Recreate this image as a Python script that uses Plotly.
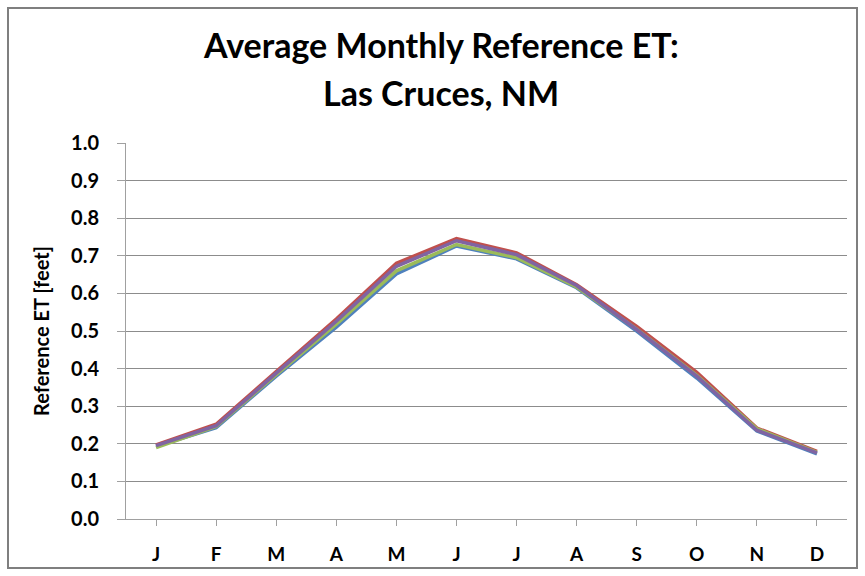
import plotly.graph_objs as go

months = ['J', 'F', 'M', 'A', 'M', 'J', 'J', 'A', 'S', 'O', 'N', 'D']
month_ids = list(range(12))

# reference ET [feet], four records
et_blue = [0.193, 0.243, 0.380, 0.510, 0.652, 0.726, 0.692, 0.615, 0.500, 0.375, 0.234, 0.173]
et_red = [0.197, 0.252, 0.392, 0.532, 0.680, 0.746, 0.708, 0.623, 0.512, 0.390, 0.242, 0.180]
et_green = [0.190, 0.246, 0.384, 0.518, 0.660, 0.730, 0.695, 0.617, 0.505, 0.382, 0.240, 0.177]
et_purple = [0.195, 0.248, 0.388, 0.526, 0.672, 0.740, 0.703, 0.621, 0.504, 0.380, 0.236, 0.176]

title_lines = ['Average Monthly Reference ET:', 'Las Cruces, NM']

series = [
    (et_blue, '#4F81BD'),
    (et_red, '#C0504D'),
    (et_green, '#9BBB59'),
    (et_purple, '#8064A2'),
]

font_family = 'Lato, "Open Sans", sans-serif'

traces = [
    go.Scatter(
        x=month_ids,
        y=vals,
        mode='lines',
        line=dict(color=col, width=3.5),
        showlegend=False,
    )
    for vals, col in series
]

# title as two annotations so each line sits where it should
title_annots = [
    dict(
        text=line,
        xref='paper',
        yref='paper',
        x=0.437,
        y=y,
        xanchor='center',
        yanchor='middle',
        showarrow=False,
        font=dict(size=34, weight='bold', color='black'),
    )
    for line, y in zip(title_lines, (1.262, 1.133))
]

fig = go.Figure(
    data=traces,
    layout=go.Layout(
        width=865,
        height=576,
        margin=dict(l=126, r=18, t=143, b=57, autoexpand=False),
        paper_bgcolor='white',
        plot_bgcolor='white',
        font=dict(family=font_family, color='black'),
        annotations=title_annots,
        xaxis=dict(
            tickmode='array',
            tickvals=month_ids,
            ticktext=months,
            range=[-0.5, 11.5],
            showgrid=False,
            zeroline=False,
            showline=True,
            linecolor='#A0A0A0',
            linewidth=1,
            ticks='outside',
            tickson='boundaries',
            ticklen=6,
            tickcolor='#A0A0A0',
            tickfont=dict(size=19, weight='bold'),
            ticklabelstandoff=12,
            automargin=False,
        ),
        yaxis=dict(
            range=[0, 1.0],
            tick0=0,
            dtick=0.1,
            tickformat='.1f',
            showgrid=True,
            gridcolor='#8C8C8C',
            gridwidth=1,
            zeroline=False,
            showline=True,
            linecolor='#A0A0A0',
            linewidth=1,
            ticks='outside',
            ticklen=8,
            tickcolor='#A0A0A0',
            tickfont=dict(size=20, weight='bold'),
            ticklabelstandoff=14,
            automargin=False,
            title=dict(
                text='Reference ET [feet]',
                font=dict(size=20, weight='bold'),
                standoff=16,
            ),
        ),
        shapes=[
            dict(
                type='rect',
                xref='paper',
                yref='paper',
                x0=(8 - 126) / 721,
                x1=(857 - 126) / 721,
                y0=(519 - 568) / 376,
                y1=(519 - 8) / 376,
                line=dict(color='#7F7F7F', width=2),
                layer='below',
            )
        ],
    )
)

# the page's default body margin would shift the figure by 8px
fig.write_html(
    'out.html',
    config={'displayModeBar': False},
    post_script="document.body.style.margin='0';",
)
